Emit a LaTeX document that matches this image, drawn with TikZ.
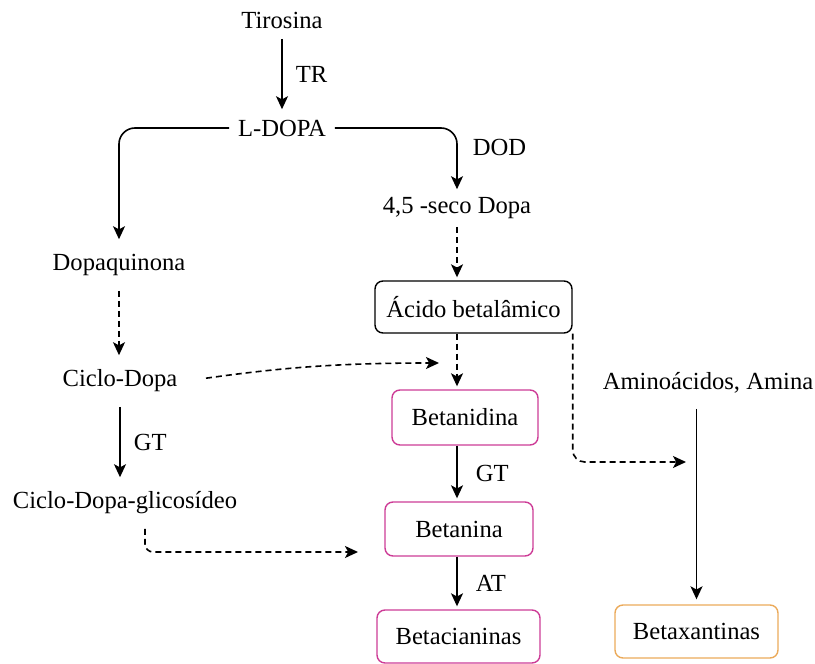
\documentclass[tikz,border=0pt]{standalone}
\usepackage{fontspec}
\setmainfont{Liberation Serif}
\usetikzlibrary{arrows.meta}
\definecolor{betapink}{RGB}{205,60,150}
\definecolor{betaorange}{RGB}{235,170,90}
\begin{document}
\begin{tikzpicture}[x=0.5pt, y=-0.5pt,
    every node/.style={font=\fontsize{12.3}{14}\selectfont, inner xsep=4pt, inner ysep=0pt, minimum height=18pt},
    box/.style={draw, rounded corners=4pt, line width=0.7pt, minimum height=26.5pt},
    lbl/.style={inner sep=0pt, minimum height=0pt},
    >={Stealth[length=6.5pt, width=6pt, inset=1.6pt]},
    every path/.style={line width=0.8pt},
    dashd/.style={dash pattern=on 3pt off 2pt}]
        \useasboundingbox (0,0) rectangle (815,664);
        \node (tir) at (282, 20) {Tirosina};
        \node (ldopa) at (282, 128) {L-DOPA};
        \node (seco) at (457, 208) {4,5 -seco Dopa};
        \node[minimum height=25pt] (dopaq) at (119, 265) {Dopaquinona};
        \node[minimum height=25pt] (ciclo) at (120, 381) {Ciclo-Dopa};
        \node[minimum height=25pt] (glico) at (125, 503) {Ciclo-Dopa-glicosídeo};
        \node[minimum height=25pt] (amino) at (708, 383) {Aminoácidos, Amina};
        \node[box, minimum width=98.5pt, minimum height=26pt] (acido) at (473.5, 307) {Ácido betalâmico};
        \node[box, draw=betapink, minimum width=73pt, minimum height=27.5pt] (betanidina) at (465, 417.5) {Betanidina};
        \node[box, draw=betapink, minimum width=74pt, minimum height=27pt] (betanina) at (459, 529) {Betanina};
        \node[box, draw=betapink, minimum width=81.5pt] (betacian) at (458.5, 636.5) {Betacianinas};
        \node[box, draw=betaorange, minimum width=81.5pt] (betax) at (696.5, 631.5) {Betaxantinas};
        \coordinate (cmeet) at (439, 363);
        \coordinate (gmeet) at (358, 552);
        \coordinate (mix) at (686, 462);
        \draw[->] (tir) -- node[lbl, right=6.5pt] {TR} (ldopa);
        \draw[->, rounded corners=8pt] (ldopa.west) -| (dopaq);
        \draw[->, rounded corners=8pt] (ldopa.east) -| node[lbl, pos=0.66, right=7.5pt] {DOD} (seco);
        \draw[->, dashd, shorten >=1.5pt] (seco) -- (seco |- acido.north);
        \draw[->, dashd] (dopaq) -- (dopaq |- ciclo.north);
        \draw[->] (ciclo) -- node[lbl, right=6.5pt] {GT} (ciclo |- glico.north);
        \draw[->, dashd, shorten <=10pt] (ciclo.east) to[out=8, in=180] (cmeet);
        \draw[->, dashd, rounded corners=4pt] ([xshift=10pt]glico.south) |- (gmeet);
        \draw[->, dashd, shorten >=1.5pt] (seco |- acido.south) -- (seco |- betanidina.north);
        \draw[->, dashd, rounded corners=6pt] (acido.south east) |- (mix);
        \draw[->, shorten >=1.5pt] (seco |- betanidina.south) -- node[lbl, right=9pt] {GT} (seco |- betanina.north);
        \draw[->, shorten >=1.5pt] (seco |- betanina.south) -- node[lbl, right=9pt] {AT} (seco |- betacian.north);
        \draw[->, shorten >=2.5pt] (amino.south -| betax) -- (betax);
\end{tikzpicture}
\end{document}
